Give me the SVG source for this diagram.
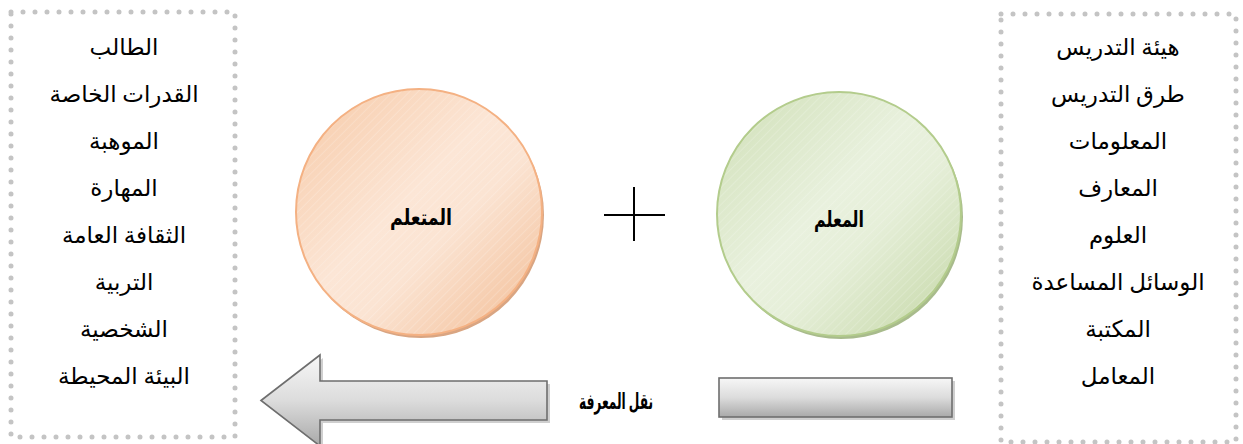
<svg xmlns="http://www.w3.org/2000/svg" width="1243" height="444" viewBox="0 0 1243 444">
<style>
.dots{fill:none;stroke:#c4c4c4;stroke-width:5;stroke-linecap:round;stroke-dasharray:0 12}
.lst{font-family:"Liberation Serif","DejaVu Sans",serif;font-size:23px;fill:#000;text-anchor:middle}
.lbl{font-family:"Liberation Serif","DejaVu Sans",serif;font-size:22px;font-weight:bold;fill:#000;text-anchor:middle}
.shape{stroke:#6e6e6e;stroke-width:1.6;fill:url(#gray)}
.shadow{fill:#cfcfcf}
</style>
<defs>
<linearGradient id="gray" x1="0" y1="0" x2="0" y2="1">
<stop offset="0" stop-color="#f7f7f7"/>
<stop offset="0.5" stop-color="#dcdcdc"/>
<stop offset="1" stop-color="#a9a9a9"/>
</linearGradient>
<linearGradient id="org" x1="0" y1="0" x2="1" y2="1">
<stop offset="0" stop-color="#f6c9a6"/>
<stop offset="0.45" stop-color="#fce6d6"/>
<stop offset="0.6" stop-color="#fbe4d3"/>
<stop offset="1" stop-color="#f2bb92"/>
</linearGradient>
<linearGradient id="grn" x1="0" y1="0" x2="1" y2="1">
<stop offset="0" stop-color="#cfdfb6"/>
<stop offset="0.45" stop-color="#e9f1de"/>
<stop offset="0.6" stop-color="#e6efd9"/>
<stop offset="1" stop-color="#c3d6a4"/>
</linearGradient>
<pattern id="hatch" width="6" height="6" patternUnits="userSpaceOnUse" patternTransform="rotate(45)">
<line x1="0" y1="0" x2="0" y2="6" stroke="#ffffff" stroke-opacity="0.35" stroke-width="1"/>
</pattern>
</defs>

<g id="box-student">
<rect class="dots" x="11" y="12" width="224" height="425"/>
<text class="lst" direction="rtl" x="124" y="55">الطالب</text>
<text class="lst" direction="rtl" x="124" y="102">القدرات الخاصة</text>
<text class="lst" direction="rtl" x="124" y="149">الموهبة</text>
<text class="lst" direction="rtl" x="124" y="196">المهارة</text>
<text class="lst" direction="rtl" x="124" y="243">الثقافة العامة</text>
<text class="lst" direction="rtl" x="124" y="290">التربية</text>
<text class="lst" direction="rtl" x="124" y="337">الشخصية</text>
<text class="lst" direction="rtl" x="124" y="384">البيئة المحيطة</text>
</g>

<g id="box-teaching">
<rect class="dots" x="1001" y="14" width="235" height="428"/>
<text class="lst" direction="rtl" x="1118" y="55">هيئة التدريس</text>
<text class="lst" direction="rtl" x="1118" y="102">طرق التدريس</text>
<text class="lst" direction="rtl" x="1118" y="149">المعلومات</text>
<text class="lst" direction="rtl" x="1118" y="196">المعارف</text>
<text class="lst" direction="rtl" x="1118" y="243">العلوم</text>
<text class="lst" direction="rtl" x="1118" y="290">الوسائل المساعدة</text>
<text class="lst" direction="rtl" x="1118" y="337">المكتبة</text>
<text class="lst" direction="rtl" x="1118" y="384">المعامل</text>
</g>

<g id="node-learner">
<circle cx="421" cy="215" r="123" fill="#d9a582"/>
<circle cx="419" cy="212" r="123" fill="url(#org)" stroke="#f4b183" stroke-width="2"/>
<circle cx="419" cy="212" r="122" fill="url(#hatch)"/>
<text class="lbl" direction="rtl" x="421" y="225" textLength="62" lengthAdjust="spacingAndGlyphs">المتعلم</text>
</g>

<g id="node-teacher">
<circle cx="841" cy="217" r="122" fill="#a8bb8c"/>
<circle cx="839" cy="214" r="122" fill="url(#grn)" stroke="#b3cc8c" stroke-width="2"/>
<circle cx="839" cy="214" r="121" fill="url(#hatch)"/>
<text class="lbl" direction="rtl" x="839" y="227" textLength="50" lengthAdjust="spacingAndGlyphs">المعلم</text>
</g>

<g id="plus">
<line x1="604" y1="215" x2="665" y2="215" stroke="#000" stroke-width="2"/>
<line x1="634" y1="187" x2="634" y2="241" stroke="#000" stroke-width="2"/>
</g>

<g id="connectors">
<path class="shadow" d="M264,403 L323,358 L323,384 L550,384 L550,423 L323,423 L323,449 Z"/>
<path class="shape" d="M261,400.5 L320,355 L320,381 L547,381 L547,420 L320,420 L320,446 Z"/>
<rect class="shadow" x="722" y="381" width="233" height="39"/>
<rect class="shape" x="719" y="378" width="233" height="39"/>
<text class="lbl" direction="rtl" x="616" y="409" textLength="74" lengthAdjust="spacingAndGlyphs">نقل المعرفة</text>
</g>
</svg>
